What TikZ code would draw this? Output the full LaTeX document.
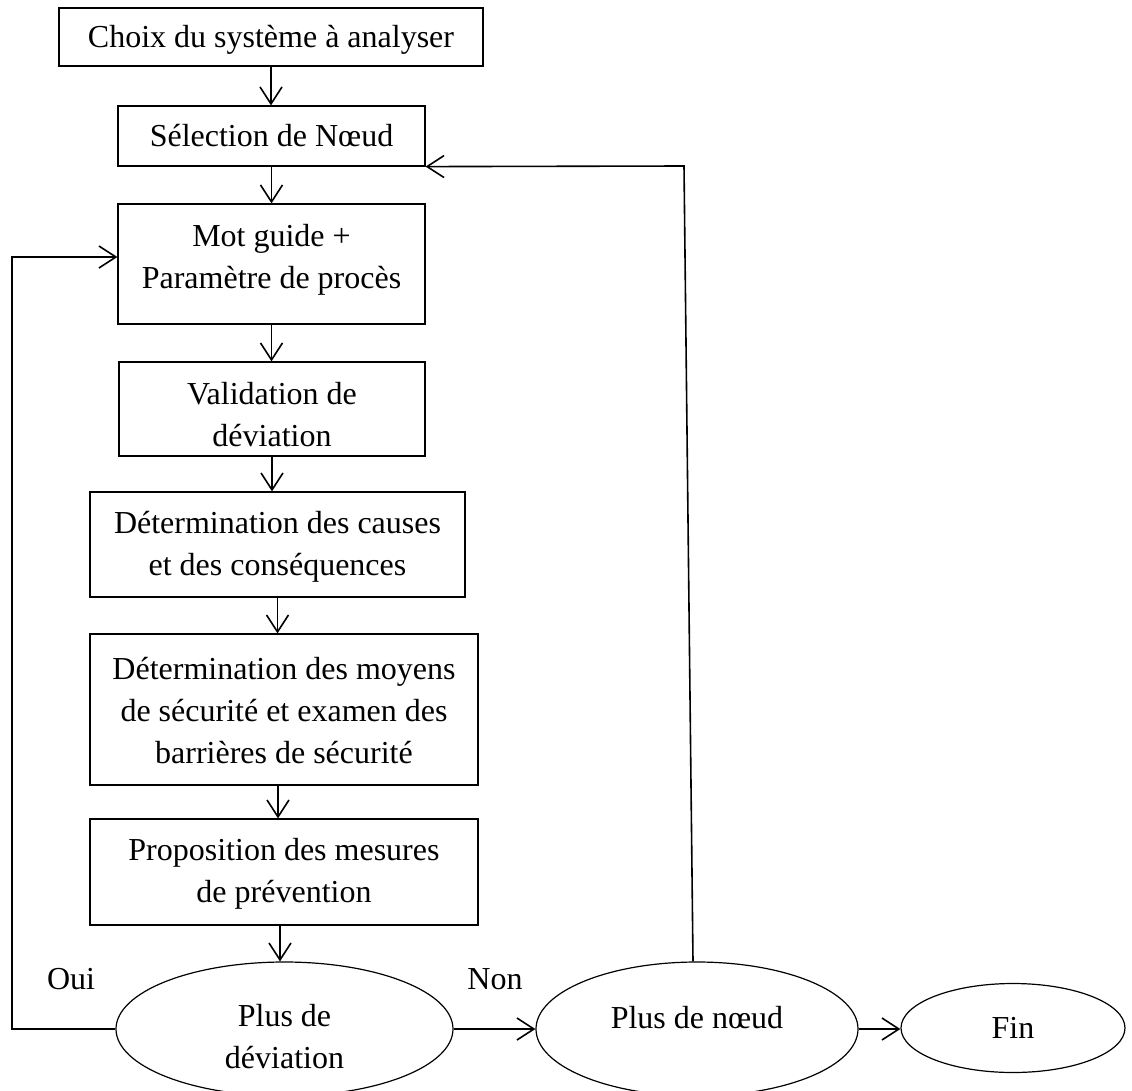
\documentclass[tikz,border=0pt]{standalone}
\usepackage{fontspec}
\setmainfont{Liberation Serif}
\usetikzlibrary{shapes.geometric,arrows.meta}
% #1 = downward shift of the text block from the node centre (pt), #2 = lines
\newcommand\tblock[2]{\raisebox{\dimexpr-#1pt-8pt\relax}[0pt][0pt]{\begin{tabular}{@{}c@{}}#2\end{tabular}}}
\begin{document}
\begin{tikzpicture}[x=1pt,y=-1pt,
 txtfont/.style={font=\fontsize{32}{42}\selectfont},
 box/.style={draw, line width=1.2pt, rectangle, inner sep=0pt, txtfont},
 oval/.style={draw, line width=1.2pt, ellipse, inner sep=0pt, txtfont},
 lbl/.style={inner sep=0pt, txtfont},
 ln/.style={line width=1.6pt},
 arr/.style={ln, -{Straight Barb[length=17pt,width=22pt,line width=1.6pt]}}]
\useasboundingbox (0,0) rectangle (1132,1090);
\node[box, minimum width=424pt, minimum height=58pt] (b1) at (271,37) {\tblock{0.8}{Choix du système à analyser}};
\node[box, minimum width=307pt, minimum height=60pt] (b2) at (271.5,136) {\tblock{0.8}{Sélection de Nœud}};
\node[box, minimum width=307pt, minimum height=120pt] (b3) at (271.5,264) {\tblock{-7}{Mot guide +\\Paramètre de procès}};
\node[box, minimum width=306pt, minimum height=94pt] (b4) at (272,409) {\tblock{6}{Validation de\\déviation}};
\node[box, minimum width=375pt, minimum height=105pt] (b5) at (277.5,544.5) {\tblock{0}{Détermination des causes\\et des conséquences}};
\node[box, minimum width=388pt, minimum height=151pt] (b6) at (284,709.5) {\tblock{2}{Détermination des moyens\\de sécurité et examen des\\barrières de sécurité}};
\node[box, minimum width=388pt, minimum height=106pt] (b7) at (284,872) {\tblock{-1}{Proposition des mesures\\de prévention}};
\node[oval, minimum width=337pt, minimum height=134pt] (e1) at (284.5,1029) {\tblock{8}{Plus de\\déviation}};
\node[oval, minimum width=322pt, minimum height=134pt] (e2) at (697,1029) {\tblock{-10.5}{Plus de nœud}};
\node[oval, minimum width=224pt, minimum height=89pt] (e3) at (1013,1028) {\tblock{0.6}{Fin}};
\node[lbl] (oui) at (71,979) {Oui};
\node[lbl] (non) at (495,979) {Non};
\coordinate (lb) at (12,1029);
\coordinate (lt) at (12,257);
\coordinate (rt) at (684,166);
\draw[arr] (b1.south) -- (b1.south |- b2.north);
\draw[arr] (b2.south) -- (b2.south |- b3.north);
\draw[arr] (b3.south) -- (b3.south |- b4.north);
\draw[arr] (b4.south) -- (b4.south |- b5.north);
\draw[arr] (b5.south) -- (b5.south |- b6.north);
\draw[arr] ([xshift=-6pt]b6.south) -- ([xshift=-6pt]b6.south |- b7.north);
\draw[arr] ([xshift=-4pt]b7.south) -- ([xshift=-4pt]b7.south |- e1.north);
\draw[arr] (e1.east) -- (e2.west);
\draw[arr] (e2.east) -- (e2.east -| e3.west);
\draw[arr] (e1.west) -- (lb) -- (lt) -- (lt -| b3.west);
\draw[arr] ([xshift=-4pt]e2.north) -- (rt) -- (b2.south east);
\end{tikzpicture}
\end{document}
